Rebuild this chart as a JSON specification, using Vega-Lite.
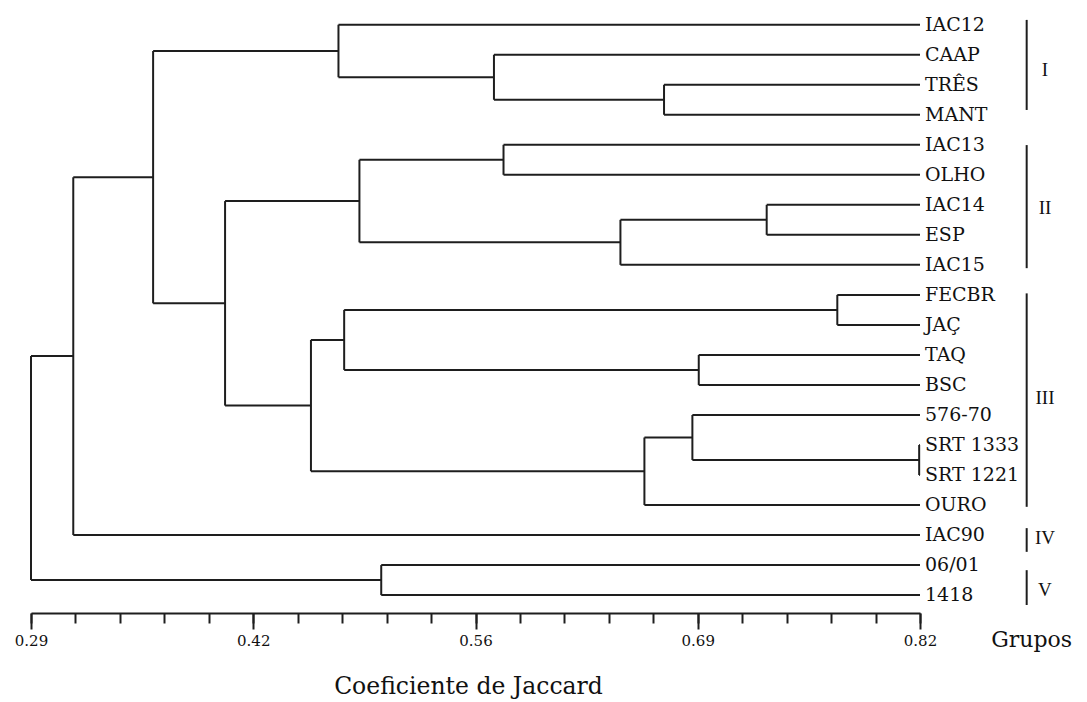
{
  "$schema": "https://vega.github.io/schema/vega-lite/v6.json",
  "width": 889,
  "height": 613,
  "autosize": {"type": "none"},
  "padding": {"left": 31, "top": 0, "right": 167, "bottom": 89},
  "background": "white",
  "config": {"view": {"stroke": null}},
  "resolve": {"axis": {"x": "independent"}},
  "datasets": {
    "leaves": [
      {"name": "IAC12", "pos": 0, "parent_sim": 0.4733},
      {"name": "CAAP", "pos": 1, "parent_sim": 0.566},
      {"name": "TRÊS", "pos": 2, "parent_sim": 0.6674},
      {"name": "MANT", "pos": 3, "parent_sim": 0.6674},
      {"name": "IAC13", "pos": 4, "parent_sim": 0.5717},
      {"name": "OLHO", "pos": 5, "parent_sim": 0.5717},
      {"name": "IAC14", "pos": 6, "parent_sim": 0.7286},
      {"name": "ESP", "pos": 7, "parent_sim": 0.7286},
      {"name": "IAC15", "pos": 8, "parent_sim": 0.6414},
      {"name": "FECBR", "pos": 9, "parent_sim": 0.7707},
      {"name": "JAÇ", "pos": 10, "parent_sim": 0.7707},
      {"name": "TAQ", "pos": 11, "parent_sim": 0.6881},
      {"name": "BSC", "pos": 12, "parent_sim": 0.6881},
      {"name": "576-70", "pos": 13, "parent_sim": 0.6843},
      {"name": "SRT 1333", "pos": 14, "parent_sim": 0.8195},
      {"name": "SRT 1221", "pos": 15, "parent_sim": 0.8195},
      {"name": "OURO", "pos": 16, "parent_sim": 0.6557},
      {"name": "IAC90", "pos": 17, "parent_sim": 0.3152},
      {"name": "06/01", "pos": 18, "parent_sim": 0.4988},
      {"name": "1418", "pos": 19, "parent_sim": 0.4988}
    ],
    "nodes": [
      {"node": "A", "sim": 0.6674, "parent_sim": 0.566, "pos": 2.5, "top": 2, "bottom": 3},
      {"node": "B", "sim": 0.566, "parent_sim": 0.4733, "pos": 1.75, "top": 1, "bottom": 2.5},
      {"node": "C", "sim": 0.4733, "parent_sim": 0.3628, "pos": 0.875, "top": 0, "bottom": 1.75},
      {"node": "D", "sim": 0.5717, "parent_sim": 0.4858, "pos": 4.5, "top": 4, "bottom": 5},
      {"node": "E", "sim": 0.7286, "parent_sim": 0.6414, "pos": 6.5, "top": 6, "bottom": 7},
      {"node": "F", "sim": 0.6414, "parent_sim": 0.4858, "pos": 7.25, "top": 6.5, "bottom": 8},
      {"node": "G", "sim": 0.4858, "parent_sim": 0.4057, "pos": 5.875, "top": 4.5, "bottom": 7.25},
      {"node": "H", "sim": 0.7707, "parent_sim": 0.4767, "pos": 9.5, "top": 9, "bottom": 10},
      {"node": "I", "sim": 0.6881, "parent_sim": 0.4767, "pos": 11.5, "top": 11, "bottom": 12},
      {"node": "J", "sim": 0.4767, "parent_sim": 0.4569, "pos": 10.5, "top": 9.5, "bottom": 11.5},
      {"node": "K", "sim": 0.8195, "parent_sim": 0.6843, "pos": 14.5, "top": 14, "bottom": 15},
      {"node": "L", "sim": 0.6843, "parent_sim": 0.6557, "pos": 13.75, "top": 13, "bottom": 14.5},
      {"node": "M", "sim": 0.6557, "parent_sim": 0.4569, "pos": 14.875, "top": 13.75, "bottom": 16},
      {"node": "N", "sim": 0.4569, "parent_sim": 0.4057, "pos": 12.6875, "top": 10.5, "bottom": 14.875},
      {"node": "O", "sim": 0.4057, "parent_sim": 0.3628, "pos": 9.28125, "top": 5.875, "bottom": 12.6875},
      {"node": "P", "sim": 0.3628, "parent_sim": 0.3152, "pos": 5.078125, "top": 0.875, "bottom": 9.28125},
      {"node": "Q", "sim": 0.3152, "parent_sim": 0.29, "pos": 11.0390625, "top": 5.078125, "bottom": 17},
      {"node": "R", "sim": 0.4988, "parent_sim": 0.29, "pos": 18.5, "top": 18, "bottom": 19},
      {"node": "root", "sim": 0.29, "parent_sim": null, "pos": 14.76953125, "top": 11.0390625, "bottom": 18.5}
    ],
    "groups": [
      {"group": "I", "top": -0.16, "bottom": 2.84, "label_pos": 1.51},
      {"group": "II", "top": 4.01, "bottom": 8.11, "label_pos": 6.12},
      {"group": "III", "top": 8.95, "bottom": 16.06, "label_pos": 12.44},
      {"group": "IV", "top": 16.77, "bottom": 17.56, "label_pos": 17.1},
      {"group": "V", "top": 18.17, "bottom": 19.33, "label_pos": 18.83}
    ],
    "header": [{"text": "Grupos"}]
  },
  "layer": [
    {
      "data": {"name": "nodes"},
      "mark": {"type": "rule", "color": "#1e1e1e", "strokeWidth": 2},
      "encoding": {
        "x": {
          "field": "sim", "type": "quantitative",
          "scale": {"domain": [0.29, 0.82], "nice": false, "zero": false},
          "axis": {
            "orient": "bottom",
            "values": [0.29, 0.3165, 0.343, 0.3695, 0.396, 0.4225, 0.449, 0.4755, 0.502, 0.5285, 0.555, 0.5815, 0.608, 0.6345, 0.661, 0.6875, 0.714, 0.7405, 0.767, 0.7935, 0.82],
            "labels": false,
            "title": null,
            "domain": true,
            "domainColor": "#1e1e1e",
            "domainWidth": 2,
            "ticks": true,
            "tickColor": "#1e1e1e",
            "tickWidth": 2,
            "tickSize": 10,
            "grid": false
          }
        },
        "y": {
          "field": "top", "type": "quantitative",
          "scale": {"domain": [-0.823, 19.597], "reverse": true, "nice": false, "zero": false},
          "axis": null
        },
        "y2": {"field": "bottom"}
      }
    },
    {
      "data": {"name": "nodes"},
      "transform": [{"filter": "datum.parent_sim != null"}],
      "mark": {"type": "rule", "color": "#1e1e1e", "strokeWidth": 2},
      "encoding": {
        "x": {
          "field": "parent_sim", "type": "quantitative",
          "scale": {"domain": [0.29, 0.82], "nice": false, "zero": false},
          "axis": {
            "orient": "bottom",
            "values": [0.29, 0.4225, 0.555, 0.6875, 0.82],
            "labelExpr": "datum.value < 0.3 ? '0.29' : datum.value < 0.45 ? '0.42' : datum.value < 0.6 ? '0.56' : datum.value < 0.7 ? '0.69' : '0.82'",
            "title": "Coeficiente de Jaccard",
            "titleFont": "DejaVu Serif",
            "titleFontSize": 23.5,
            "titleFontWeight": "normal",
            "titleColor": "#111111",
            "titleX": 437,
            "titleY": 80,
            "titleAlign": "center",
            "titleBaseline": "alphabetic",
            "domain": false,
            "ticks": true,
            "tickColor": "#1e1e1e",
            "tickWidth": 2,
            "tickSize": 16,
            "labelFont": "DejaVu Serif",
            "labelFontSize": 15,
            "labelColor": "#111111",
            "labelPadding": 4,
            "labelFlush": false,
            "labelOverlap": false,
            "grid": false
          }
        },
        "x2": {"field": "sim"},
        "y": {"field": "pos", "type": "quantitative", "scale": {"domain": [-0.823, 19.597], "reverse": true, "nice": false, "zero": false}, "axis": null}
      }
    },
    {
      "data": {"name": "leaves"},
      "mark": {"type": "rule", "color": "#1e1e1e", "strokeWidth": 2},
      "encoding": {
        "x": {"field": "parent_sim", "type": "quantitative", "scale": {"domain": [0.29, 0.82], "nice": false, "zero": false}, "axis": null},
        "x2": {"datum": 0.82},
        "y": {"field": "pos", "type": "quantitative", "scale": {"domain": [-0.823, 19.597], "reverse": true, "nice": false, "zero": false}, "axis": null}
      }
    },
    {
      "data": {"name": "leaves"},
      "mark": {"type": "text", "align": "left", "baseline": "middle", "dx": 5, "font": "DejaVu Serif", "fontSize": 19, "color": "#111111"},
      "encoding": {
        "x": {"datum": 0.82, "type": "quantitative", "scale": {"domain": [0.29, 0.82], "nice": false, "zero": false}, "axis": null},
        "y": {"field": "pos", "type": "quantitative", "scale": {"domain": [-0.823, 19.597], "reverse": true, "nice": false, "zero": false}, "axis": null},
        "text": {"field": "name"}
      }
    },
    {
      "data": {"name": "groups"},
      "mark": {"type": "rule", "color": "#1e1e1e", "strokeWidth": 2},
      "encoding": {
        "x": {"datum": 0.8836, "type": "quantitative", "scale": {"domain": [0.29, 0.82], "nice": false, "zero": false}, "axis": null},
        "y": {"field": "top", "type": "quantitative", "scale": {"domain": [-0.823, 19.597], "reverse": true, "nice": false, "zero": false}, "axis": null},
        "y2": {"field": "bottom"}
      }
    },
    {
      "data": {"name": "groups"},
      "mark": {"type": "text", "align": "center", "baseline": "middle", "font": "Liberation Serif", "fontSize": 19, "color": "#111111"},
      "encoding": {
        "x": {"datum": 0.8945, "type": "quantitative", "scale": {"domain": [0.29, 0.82], "nice": false, "zero": false}, "axis": null},
        "y": {"field": "label_pos", "type": "quantitative", "scale": {"domain": [-0.823, 19.597], "reverse": true, "nice": false, "zero": false}, "axis": null},
        "text": {"field": "group"}
      }
    },
    {
      "data": {"name": "header"},
      "mark": {"type": "text", "align": "center", "baseline": "alphabetic", "font": "DejaVu Serif", "fontSize": 22, "color": "#111111"},
      "encoding": {
        "x": {"datum": 0.8866, "type": "quantitative", "scale": {"domain": [0.29, 0.82], "nice": false, "zero": false}, "axis": null},
        "y": {"datum": 20.72, "type": "quantitative", "scale": {"domain": [-0.823, 19.597], "reverse": true, "nice": false, "zero": false}, "axis": null},
        "text": {"field": "text"}
      }
    }
  ]
}
